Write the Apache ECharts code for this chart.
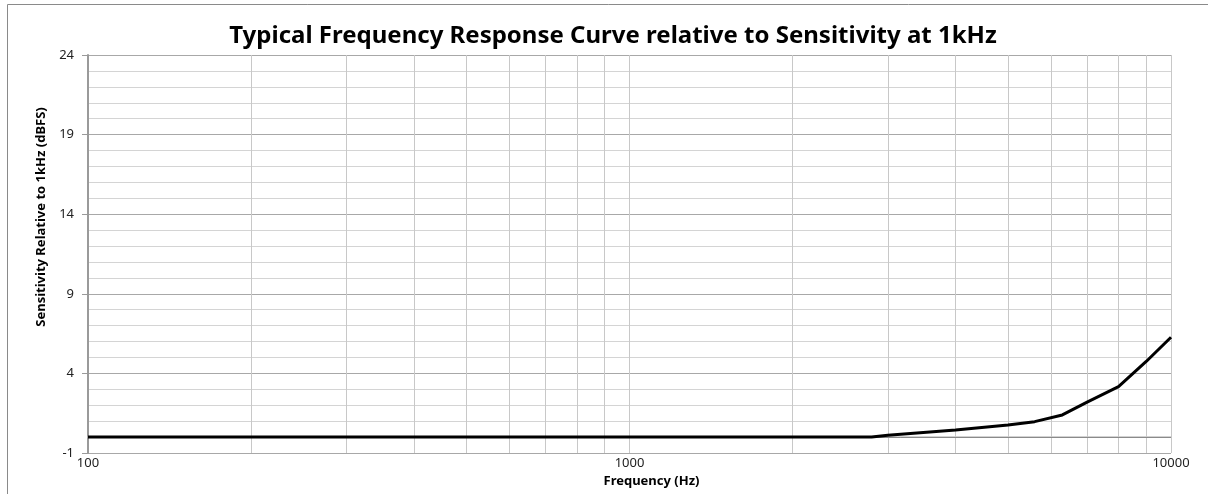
<!DOCTYPE html>
<html>
<head>
<meta charset="utf-8">
<script src="https://cdn.jsdelivr.net/npm/echarts@6/dist/echarts.min.js"></script>
<style>
  html, body { margin: 0; padding: 0; background: #fff; }
  #chart { width: 1208px; height: 494px; }
</style>
</head>
<body>
<div id="chart"></div>
<script>
// measured response, dB relative to 1kHz
const freqs = [100, 1000, 2800, 3000, 4000, 5000, 5600, 6300, 7000, 8000, 9000, 10000];
const values = [0, 0, 0, 0.12, 0.45, 0.76, 0.97, 1.39, 2.2, 3.17, 4.75, 6.27];

// vertical grid lines between decades
const gridFreqs = [200, 300, 400, 500, 600, 700, 800, 900,
                   2000, 3000, 4000, 5000, 6000, 7000, 8000, 9000];

const yMin = -1, yMax = 24, yStep = 5;

const font = '"Noto Sans", "Open Sans", sans-serif';

const chart = echarts.init(document.getElementById('chart'), null, { renderer: 'canvas' });

chart.setOption({
    animation: false,
    title: {
        text: 'Typical Frequency Response Curve relative to Sensitivity at 1kHz',
        left: 608, top: 19, textAlign: 'center',
        textStyle: { fontFamily: font, fontWeight: 'bold', fontSize: 24, color: '#000' }
    },
    graphic: [{
        type: 'rect', silent: true, z: -1,
        shape: { x: 7.5, y: 4.5, width: 1400, height: 700 },
        style: { fill: 'none', stroke: '#8a8a8a', lineWidth: 1 }
    }],
    grid: { left: 88, right: 37, top: 55, bottom: 41 },
    xAxis: {
        type: 'log', logBase: 10, min: 100, max: 10000,
        name: 'Frequency (Hz)', nameLocation: 'middle', nameGap: 22,
        nameTextStyle: { fontFamily: font, fontWeight: 'bold', fontSize: 13, color: '#000', padding: [0, 0, 0, 44] },
        axisLine: { lineStyle: { color: '#c4c4c4', width: 1.5 } },
        axisTick: { show: false },
        axisLabel: { margin: 4, fontFamily: font, fontSize: 13, color: '#222',
                     formatter: v => String(Math.round(v)) },
        splitLine: { show: true, lineStyle: { color: '#c8c8c8', width: 1 } }
    },
    yAxis: {
        type: 'value', min: yMin, max: yMax, interval: yStep,
        name: 'Sensitivity Relative to 1kHz (dBFS)', nameLocation: 'middle', nameGap: 34,
        nameTextStyle: { fontFamily: font, fontWeight: 'bold', fontSize: 13, color: '#000', padding: [0, 0, 0, 74] },
        axisLine: { show: true, lineStyle: { color: '#9a9a9a', width: 2 } },
        axisTick: { show: true, length: 6, lineStyle: { color: '#9a9a9a' } },
        axisLabel: { margin: 14, fontFamily: font, fontSize: 13, color: '#222' },
        splitLine: { show: true, lineStyle: { color: '#a8a8a8', width: 1.2 } },
        minorTick: { show: false, splitNumber: 5 },
        minorSplitLine: { show: true, lineStyle: { color: '#d4d4d4', width: 1.2 } }
    },
    series: [{
        type: 'line',
        data: freqs.map((f, i) => [f, values[i]]),
        showSymbol: false,
        lineStyle: { color: '#000', width: 3 },
        z: 3,
        markLine: {
            silent: true, z: 1, symbol: ['none', 'none'],
            label: { show: false },
            lineStyle: { color: '#c8c8c8', width: 1, type: 'solid' },
            data: gridFreqs.map(f => ({ xAxis: f })).concat([
                { yAxis: 0, lineStyle: { color: '#8a8a8a', width: 1, type: 'solid' } }
            ])
        }
    }]
});
</script>
</body>
</html>
